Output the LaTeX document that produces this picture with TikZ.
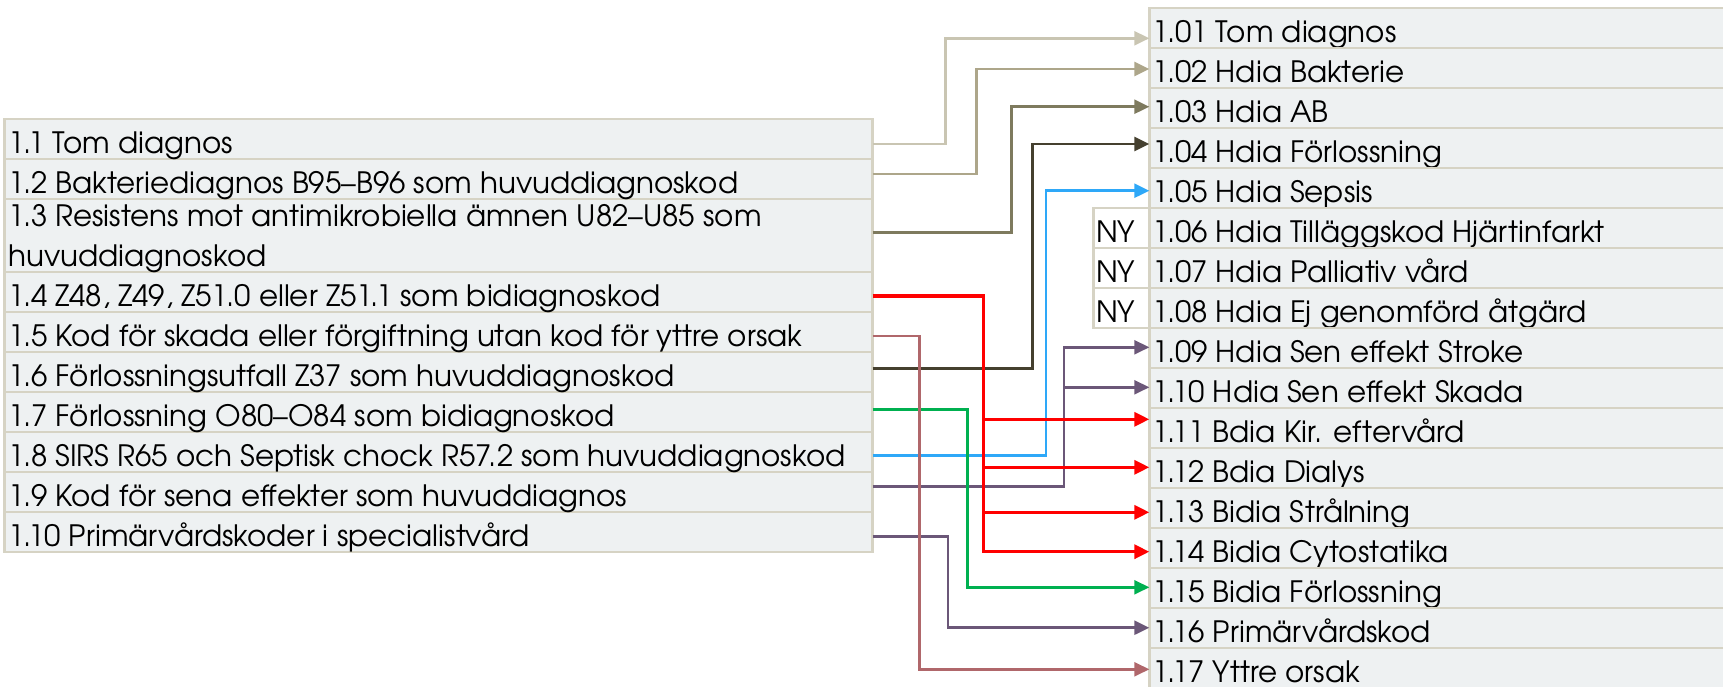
\documentclass[tikz,border=0pt]{standalone}
\usepackage{fontspec}
\setmainfont{TeX Gyre Adventor}
\usetikzlibrary{arrows.meta}
\definecolor{cellfill}{HTML}{EEF1F2}
\definecolor{cellline}{HTML}{D6D3C4}
\definecolor{cA}{HTML}{C9C5B2}
\definecolor{cB}{HTML}{ADA68A}
\definecolor{cC}{HTML}{7E7A5E}
\definecolor{cD}{HTML}{45402F}
\definecolor{cE}{HTML}{2EA8F8}
\definecolor{cF}{HTML}{6B5778}
\definecolor{cG}{HTML}{FF0000}
\definecolor{cH}{HTML}{B0676B}
\definecolor{cI}{HTML}{00B050}
\begin{document}
\begin{tikzpicture}[x=0.5pt,y=-0.5pt,
  cell/.style={draw=cellline, fill=cellfill, line width=1.35pt, anchor=north west, inner sep=0pt, outer sep=0pt},
  lcell/.style={cell, minimum width=434.2pt, minimum height=20pt},
  rcell/.style={cell, minimum width=290.35pt, minimum height=20pt},
  nycell/.style={cell, fill=white, minimum width=28pt, minimum height=20pt},
  lbl/.style={anchor=base west, inner sep=0pt, outer sep=0pt, font=\fontsize{14.7}{20}\selectfont, text=black},
  wire/.style={line width=1.3pt},
  conn/.style={wire, -{Triangle[length=7.5pt,width=7pt]}},
  redconn/.style={conn, cG, line width=1.7pt},
]
\useasboundingbox (0,0) rectangle (1723,686);

% ---------- left table ----------
\node[lcell] (L1) at (4.3,119) {};
\node[lcell] (L2) at (4.3,159) {};
\node[lcell, minimum height=36.5pt] (L3) at (4.3,199) {};
\node[lcell] (L4) at (4.3,272) {};
\node[lcell] (L5) at (4.3,312) {};
\node[lcell] (L6) at (4.3,352) {};
\node[lcell] (L7) at (4.3,392) {};
\node[lcell] (L8) at (4.3,432) {};
\node[lcell] (L9) at (4.3,472) {};
\node[lcell] (L10) at (4.3,512) {};

\node[lbl] (tL1) at (8.5,153) {1.1 Tom diagnos};
\node[lbl] (tL2) at (8.5,193) {1.2 Bakteriediagnos B95–B96 som huvuddiagnoskod};
\node[lbl] (tL3a) at (8.5,226) {1.3 Resistens mot antimikrobiella ämnen U82–U85 som};
\node[lbl] (tL3b) at (8.5,266) {huvuddiagnoskod};
\node[lbl] (tL4) at (8.5,306) {1.4 Z48, Z49, Z51.0 eller Z51.1 som bidiagnoskod};
\node[lbl] (tL5) at (8.5,346) {1.5 Kod för skada eller förgiftning utan kod för yttre orsak};
\node[lbl] (tL6) at (8.5,386) {1.6 Förlossningsutfall Z37 som huvuddiagnoskod};
\node[lbl] (tL7) at (8.5,426) {1.7 Förlossning O80–O84 som bidiagnoskod};
\node[lbl] (tL8) at (8.5,466) {1.8 SIRS R65 och Septisk chock R57.2 som huvuddiagnoskod};
\node[lbl] (tL9) at (8.5,506) {1.9 Kod för sena effekter som huvuddiagnos};
\node[lbl] (tL10) at (8.5,546) {1.10 Primärvårdskoder i specialistvård};

% ---------- right table ----------
\foreach \k/\t [count=\i from 0] in {
  01/{1.01 Tom diagnos},
  02/{1.02 Hdia Bakterie},
  03/{1.03 Hdia AB},
  04/{1.04 Hdia Förlossning},
  05/{1.05 Hdia Sepsis},
  06/{1.06 Hdia Tilläggskod Hjärtinfarkt},
  07/{1.07 Hdia Palliativ vård},
  08/{1.08 Hdia Ej genomförd åtgärd},
  09/{1.09 Hdia Sen effekt Stroke},
  10/{1.10 Hdia Sen effekt Skada},
  11/{1.11 Bdia Kir. eftervård},
  12/{1.12 Bdia Dialys},
  13/{1.13 Bidia Strålning},
  14/{1.14 Bidia Cytostatika},
  15/{1.15 Bidia Förlossning},
  16/{1.16 Primärvårdskod},
  17/{1.17 Yttre orsak}} {
  \node[rcell] (R\k) at (1149.3,{8+40*\i}) {};
  \node[lbl] (tR\k) at (1152.5,{42.5+40*\i}) {\t};
}

% ---------- NY cells ----------
\node[nycell] (N06) at (1093.3,208) {};
\node[nycell] (N07) at (1093.3,248) {};
\node[nycell] (N08) at (1093.3,288) {};
\node[lbl] (tN06) at (1096,242.5) {NY};
\node[lbl] (tN07) at (1096,282.5) {NY};
\node[lbl] (tN08) at (1096,322.5) {NY};

% ---------- connectors ----------
\draw[conn, cA] (L1.east |- 0,144) -- (945.3,144) |- (R01.west |- 0,38.3);
\draw[conn, cB] (L2.east |- 0,174) -- (976.7,174) |- (R02.west |- 0,69);
\draw[conn, cC] (L3.east |- 0,232.7) -- (1011.7,232.7) |- (R03.west |- 0,106.7);
\draw[conn, cD] (L6.east |- 0,368.3) -- (1032.7,368.3) |- (R04.west |- 0,144);
\draw[conn, cE] (L8.east |- 0,455.3) -- (1046,455.3) |- (R05.west |- 0,190.7);

\draw[conn, cF] (L9.east |- 0,486.7) -- (1064,486.7) |- (R09.west |- 0,347.3);
\draw[conn, cF] (1064,387.3) -- (R10.west |- 0,387.3);

\draw[conn, cI] (L7.east |- 0,409.3) -- (967.5,409.3) |- (R15.west |- 0,587.3);
\draw[conn, cF] (L10.east |- 0,536.7) -- (948,536.7) |- (R16.west |- 0,627.7);
\draw[conn, cH] (L5.east |- 0,336) -- (919.3,336) |- (R17.west |- 0,669.3);

\draw[redconn] (L4.east |- 0,296) -- (983.3,296) |- (R14.west |- 0,551.7);
\draw[redconn] (983.3,419.3) -- (R11.west |- 0,419.3);
\draw[redconn] (983.3,467.3) -- (R12.west |- 0,467.3);
\draw[redconn] (983.3,512.3) -- (R13.west |- 0,512.3);
\end{tikzpicture}
\end{document}
